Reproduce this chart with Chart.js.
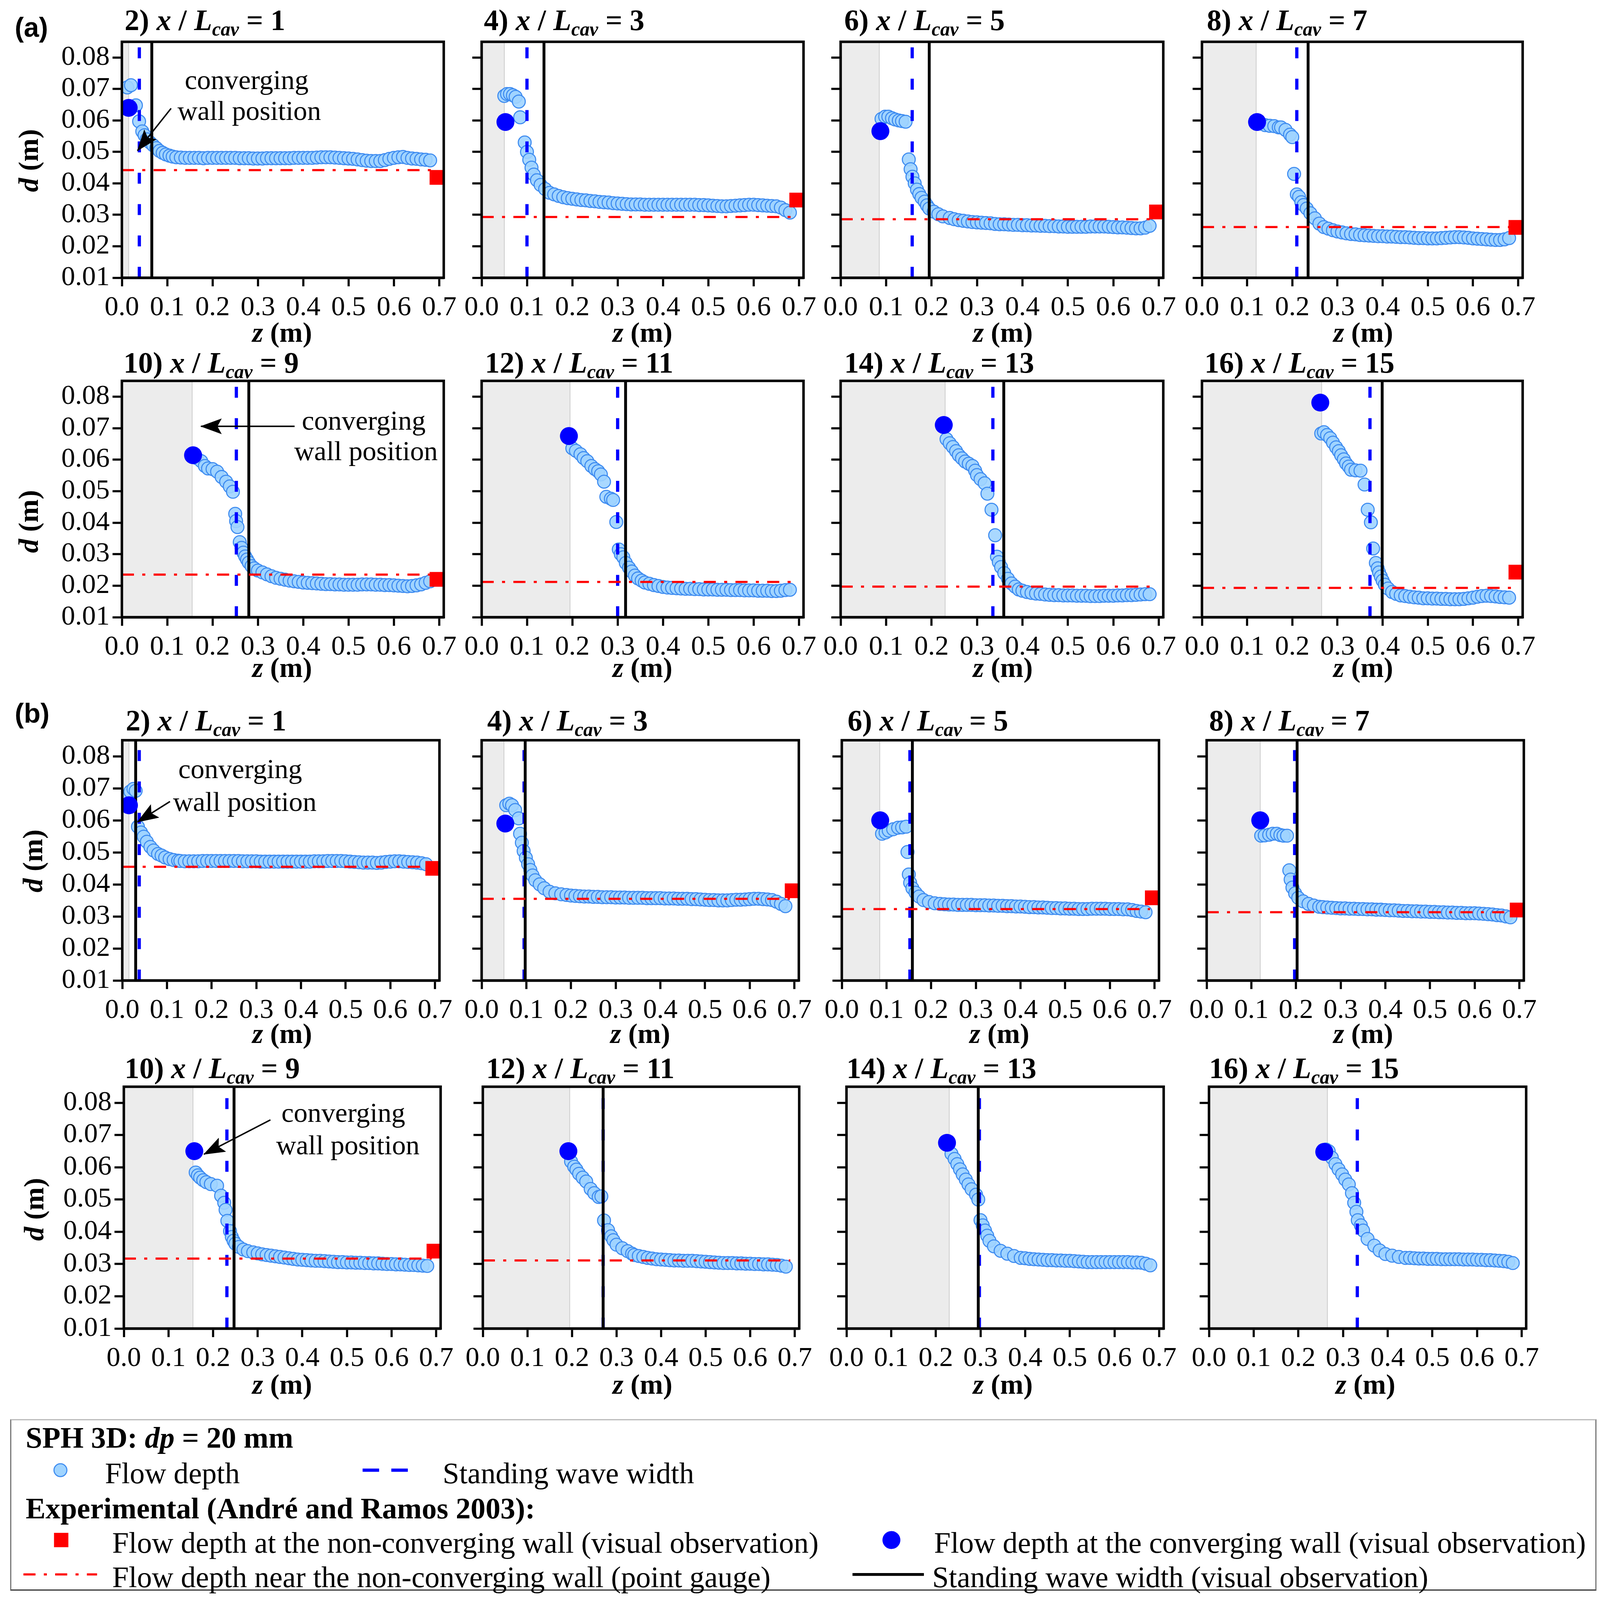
<!DOCTYPE html>
<html>
<head>
<title>Flow depth profiles</title>
<script src="https://cdn.jsdelivr.net/npm/chart.js"></script>
<style>
  html, body { margin:0; padding:0; background:#fff; overflow:hidden; }
  #page { position:relative; width:100vw; height:100vh; overflow:hidden; font-family:"Liberation Serif", serif; color:#000; }
  canvas { position:absolute; }
  .t { position:absolute; white-space:nowrap; line-height:1; }
  .b { font-weight:bold; }
  sub { font-size:.66em; vertical-align:-.28em; line-height:0; }
  #legendBox { position:absolute; border:3px solid #777; border-top-color:#bbb; border-bottom-color:#333; box-sizing:border-box; }
  svg { position:absolute; left:0; top:0; }
</style>
</head>
<body>
<div id="page"><div id="legendBox"></div></div>
<script>
// tick labels
const xTicks = [0, .1, .2, .3, .4, .5, .6, .7];
const yTicks = [.01, .02, .03, .04, .05, .06, .07, .08];

// z stations of the downstream part of every profile
const zGrid = [.13,.14,.15,.16,.17,.18,.19,.20,.21,.22,.23,.24,.25,.26,.27,.28,.29,.30,.31,.32,.33,.34,.35,.36,.37,.38,.39,.40,.41,.42,.43,.44,.45,.46,.47,.48,.49,.50,.51,.52,.53,.54,.55,.56,.57,.58,.59,.60,.61,.62,.63,.64,.65,.66,.67,.68];

// panel names, (a) then (b)
const panelNo = [2,4,6,8,10,12,14,16];
const xOverL = [1,3,5,7,9,11,13,15];

// (a) flow depth, head part z / d, then d on the tail of zGrid
const zA2 = [.012,.02,.031,.038,.045,.05,.055,.062,.069,.076,.083,.09,.097,.105,.112,.12];
const dA2 = [.0705,.0712,.0648,.0597,.0565,.0553,.054,.053,.0521,.0512,.0503,.0497,.0492,.0488,.0485,.0483];
const tA2 = [.0482,.0481,.0481,.0481,.0481,.0480,.0481,.0481,.0481,.0481,.0481,.0481,.0481,.0480,.0480,.0480,.0479,.0479,.0479,.0480,.0480,.0480,.0480,.0480,.0480,.0481,.0481,.0481,.0481,.0481,.0482,.0483,.0483,.0483,.0482,.0481,.0480,.0479,.0478,.0476,.0474,.0472,.0471,.0471,.0471,.0474,.0478,.0481,.0483,.0484,.0481,.0479,.0478,.0476,.0475,.0473];

const zA4 = [.05,.056,.0625,.069,.075,.082,.085,.095,.10,.105,.11,.115,.122,.13,.14,.15,.16,.17,.18];
const dA4 = [.0678,.0684,.0684,.068,.0675,.066,.061,.053,.050,.0475,.045,.0428,.041,.0395,.0382,.037,.0365,.036,.0356];
const tA4 = [.0353,.0351,.0349,.0347,.0346,.0344,.0343,.0341,.0340,.0339,.0337,.0336,.0335,.0334,.0333,.0333,.0333,.0332,.0332,.0332,.0332,.0332,.0332,.0332,.0332,.0332,.0332,.0332,.0332,.0331,.0331,.0330,.0329,.0328,.0327,.0327,.0328,.0329,.0330,.0331,.0332,.0332,.0331,.0330,.0329,.0328,.0327,.0323,.0315,.0307];

const zA6 = [.09,.098,.105,.113,.12,.128,.135,.143,.15,.154,.158,.163,.168,.173,.178,.185,.19,.195,.205,.215,.225];
const dA6 = [.0605,.0612,.0612,.0607,.0603,.060,.0598,.0596,.0476,.0445,.0421,.040,.038,.0366,.0354,.0342,.033,.032,.031,.0302,.0295];
const tA6 = [.0290,.0286,.0283,.0281,.0279,.0277,.0276,.0275,.0274,.0273,.0271,.0270,.0270,.0269,.0268,.0268,.0267,.0267,.0266,.0266,.0265,.0265,.0264,.0264,.0263,.0263,.0262,.0262,.0262,.0262,.0262,.0263,.0263,.0263,.0263,.0262,.0261,.0260,.0260,.0259,.0258,.0257,.0257,.0259,.0265];

const zA8 = [.13,.14,.15,.16,.17,.175,.185,.195,.20,.204,.21,.215,.22,.225,.232,.24,.25,.26];
const dA8 = [.059,.0585,.0583,.0582,.0578,.0578,.057,.0555,.0547,.043,.0365,.0357,.034,.0331,.032,.0305,.0289,.0272];
const tA8 = [.0261,.0256,.0251,.0247,.0244,.0241,.0239,.0238,.0236,.0235,.0234,.0233,.0232,.0232,.0231,.0231,.0230,.0229,.0229,.0228,.0227,.0226,.0226,.0225,.0225,.0225,.0226,.0227,.0228,.0229,.0229,.0228,.0227,.0225,.0224,.0223,.0222,.0221,.0220,.0220,.0222,.0226];

const zA10 = [.165,.175,.183,.19,.20,.21,.22,.23,.238,.245,.25,.252,.255,.26,.264,.268,.272,.276,.28,.286,.292];
const dA10 = [.0605,.0595,.058,.0572,.057,.0562,.0545,.053,.0515,.0498,.0428,.0405,.0386,.0338,.032,.0305,.0293,.0283,.0273,.0262,.0255];
const tA10 = [.0248,.0242,.0236,.0230,.0225,.0222,.0219,.0216,.0214,.0212,.0210,.0209,.0208,.0207,.0206,.0205,.0205,.0204,.0204,.0203,.0203,.0203,.0203,.0204,.0204,.0204,.0203,.0203,.0202,.0202,.0201,.0200,.0199,.0198,.0199,.0201,.0204,.0209,.0214];

const zA12 = [.20,.208,.218,.225,.233,.242,.25,.257,.263,.27,.275,.285,.29,.297,.3025,.307,.3125,.318,.325,.331,.338,.345,.353];
const dA12 = [.0636,.0628,.0617,.0605,.0595,.058,.057,.0563,.0553,.053,.0482,.0476,.0472,.0402,.0315,.030,.029,.0272,.0257,.0245,.0232,.0223,.0216];
const tA12 = [.0210,.0206,.0202,.0199,.0196,.0194,.0193,.0192,.0191,.0190,.0190,.0189,.0189,.0188,.0188,.0188,.0187,.0187,.0187,.0186,.0186,.0186,.0185,.0185,.0185,.0184,.0184,.0184,.0183,.0183,.0184,.0186,.0187];

const zA14 = [.233,.24,.247,.254,.26,.267,.274,.282,.29,.296,.30,.308,.317,.323,.332,.34,.344,.348,.353,.36,.368,.376,.384,.392];
const dA14 = [.0665,.0652,.064,.0627,.0614,.0604,.0594,.0587,.058,.0565,.0551,.0538,.0525,.0492,.0441,.036,.0292,.0275,.0259,.024,.0222,.0207,.0197,.0188];
const tA14 = [.0184,.0180,.0177,.0175,.0174,.0172,.0171,.0170,.0170,.0169,.0169,.0169,.0168,.0168,.0168,.0167,.0167,.0167,.0168,.0168,.0168,.0169,.0169,.0170,.0170,.0171,.0172,.0173,.0173];

const zA16 = [.264,.27,.277,.284,.29,.297,.303,.308,.314,.319,.325,.33,.34,.351,.36,.367,.374,.379,.385,.389,.392,.396,.40,.405,.412,.421,.43,.44];
const dA16 = [.0683,.0687,.0678,.0668,.0654,.0639,.0627,.0614,.0601,.0588,.0578,.0568,.0566,.0565,.0521,.0441,.0401,.0318,.0272,.0255,.0242,.0229,.0216,.0203,.0191,.018,.0174,.0169];
const tA16 = [.0167,.0165,.0163,.0162,.0160,.0160,.0159,.0159,.0158,.0158,.0157,.0157,.0157,.0158,.0160,.0162,.0165,.0167,.0168,.0167,.0166,.0164,.0163,.0162];

// (b) flow depth
const zB2 = [.012,.018,.025,.03,.035,.042,.048,.055,.063,.07,.08,.088,.096,.106,.115,.125,.13];
const dB2 = [.0676,.069,.0698,.0692,.058,.0562,.0549,.0533,.0517,.0506,.0495,.049,.0484,.0479,.0476,.0474,.0473];
const tB2 = [.0472,.0472,.0472,.0472,.0473,.0473,.0473,.0473,.0473,.0473,.0473,.0473,.0473,.0472,.0472,.0472,.0472,.0471,.0471,.0471,.0471,.0471,.0471,.0471,.0471,.0471,.0471,.0471,.0471,.0472,.0472,.0472,.0473,.0473,.0473,.0473,.0472,.0471,.0470,.0469,.0468,.0468,.0468,.0467,.0468,.0470,.0471,.0472,.0472,.0471,.0470,.0469,.0468,.0466,.0463];

const zB4 = [.055,.062,.068,.075,.083,.086,.09,.094,.099,.104,.109,.114,.12,.13,.14,.152,.165,.178];
const dB4 = [.0647,.0652,.0647,.0632,.0606,.0558,.053,.0504,.0483,.0463,.0445,.0428,.0413,.040,.0388,.0377,.0372,.0369];
const tB4 = [.0367,.0365,.0364,.0363,.0362,.0362,.0361,.0361,.0360,.0360,.0360,.0359,.0359,.0359,.0358,.0358,.0358,.0358,.0357,.0357,.0357,.0357,.0356,.0356,.0356,.0355,.0355,.0355,.0354,.0354,.0353,.0352,.0351,.0351,.0350,.0350,.0350,.0351,.0352,.0352,.0353,.0354,.0355,.0355,.0354,.0353,.0351,.0346,.0339,.0332];

const zB6 = [.09,.098,.105,.115,.126,.135,.144,.147,.15,.153,.158,.165,.173,.183,.195,.208];
const dB6 = [.0558,.0562,.0568,.0572,.0577,.0578,.058,.0501,.0431,.0405,.0388,.0374,.0362,.0351,.0345,.0341];
const tB6 = [.0339,.0338,.0337,.0337,.0336,.0336,.0336,.0336,.0335,.0335,.0335,.0334,.0334,.0333,.0333,.0332,.0332,.0331,.0331,.0330,.0329,.0329,.0328,.0328,.0327,.0326,.0326,.0325,.0325,.0324,.0324,.0323,.0323,.0323,.0324,.0324,.0324,.0324,.0323,.0323,.0323,.0322,.0322,.0320,.0317,.0315,.0313];

const zB8 = [.122,.13,.14,.148,.157,.165,.172,.18,.185,.188,.192,.198,.205,.216,.228,.24,.252];
const dB8 = [.0552,.0553,.0555,.0558,.0558,.0554,.0552,.0552,.0444,.0415,.039,.0372,.0358,.0347,.0339,.0334,.033];
const tB8 = [.0329,.0328,.0327,.0326,.0325,.0325,.0324,.0324,.0323,.0323,.0322,.0322,.0321,.0321,.0320,.0319,.0319,.0318,.0317,.0317,.0316,.0316,.0315,.0315,.0314,.0314,.0313,.0313,.0312,.0312,.0311,.0311,.0310,.0310,.0310,.0309,.0308,.0307,.0306,.0304,.0303,.0300,.0297];

const zB10 = [.161,.166,.171,.178,.185,.195,.209,.218,.225,.228,.232,.238,.242,.246,.25,.258,.268,.278];
const dB10 = [.0584,.0575,.0568,.056,.0554,.0548,.0543,.0512,.049,.0468,.0434,.0402,.0384,.0372,.0363,.0353,.0345,.034];
const tB10 = [.0336,.0333,.0330,.0328,.0326,.0324,.0322,.0320,.0318,.0316,.0314,.0313,.0312,.0311,.0310,.0310,.0309,.0308,.0307,.0306,.0306,.0305,.0305,.0304,.0304,.0303,.0303,.0302,.0302,.0301,.0300,.0300,.0299,.0299,.0298,.0297,.0297,.0296,.0295,.0294];

const zB12 = [.198,.205,.21,.216,.224,.232,.242,.25,.26,.266,.272,.281,.288,.293,.30,.313,.325,.335];
const dB12 = [.0618,.0602,.0593,.058,.0568,.0556,.0533,.052,.0508,.051,.0435,.0405,.0386,.0374,.036,.0349,.034,.0332];
const tB12 = [.0328,.0325,.0322,.0319,.0317,.0315,.0314,.0313,.0312,.0311,.0311,.0310,.0310,.0310,.0309,.0308,.0307,.0306,.0305,.0304,.0303,.0303,.0303,.0302,.0302,.0301,.0301,.0300,.0300,.0299,.0299,.0298,.0297,.0295,.0292];

const zB14 = [.235,.242,.248,.254,.26,.267,.273,.28,.29,.295,.30,.305,.31,.315,.32,.33,.345,.36,.375,.39];
const dB14 = [.0642,.0626,.061,.0594,.0578,.0562,.0547,.0532,.0515,.05,.0436,.042,.0404,.0388,.0372,.0355,.0341,.0332,.0325,.0319];
const tB14 = [.0318,.0316,.0315,.0314,.0313,.0312,.0312,.0311,.0311,.0310,.0310,.0309,.0308,.0307,.0306,.0306,.0306,.0306,.0306,.0306,.0306,.0306,.0306,.0306,.0305,.0305,.0304,.0301,.0296];

const zB16 = [.262,.268,.275,.283,.29,.298,.305,.313,.32,.325,.33,.333,.34,.345,.355,.37,.382,.395,.41,.425,.44];
const dB16 = [.0655,.065,.063,.061,.0594,.0578,.0562,.0547,.052,.049,.0462,.0436,.042,.0404,.0378,.0357,.0342,.0331,.0326,.0322,.0319];
const tB16 = [.0319,.0318,.0317,.0317,.0316,.0316,.0316,.0315,.0315,.0315,.0315,.0315,.0314,.0314,.0314,.0313,.0313,.0312,.0312,.0311,.0310,.0309,.0307,.0303];

const zHeads = [zA2,zA4,zA6,zA8,zA10,zA12,zA14,zA16,zB2,zB4,zB6,zB8,zB10,zB12,zB14,zB16];
const dHeads = [dA2,dA4,dA6,dA8,dA10,dA12,dA14,dA16,dB2,dB4,dB6,dB8,dB10,dB12,dB14,dB16];
const dTails = [tA2,tA4,tA6,tA8,tA10,tA12,tA14,tA16,tB2,tB4,tB6,tB8,tB10,tB12,tB14,tB16];

// the other marks, one value per panel, null where the panel has none
const wallZ  = [.015,.05,.085,.12,.155,.195,.23,.265, .015,.05,.085,.12,.155,.195,.23,.265];
const dashZ  = [.0385,.10,.1575,.21,.2525,.30,.335,.372, .038,.095,.1525,.197,.231,.27,.2975,.332];
const blackZ = [.066,.1375,.195,.235,.28,.3175,.359,.399, .03,.0975,.158,.2025,.247,.27,.295,null];
const gaugeD = [.0442,.0293,.0286,.0261,.0235,.0212,.0197,.0193, .0455,.0355,.0323,.0313,.0317,.0311,null,null];
const squareD = [.0419,.0347,.0309,.026,.022,null,null,.0243, .045,.038,.0358,.032,.034,null,null,null];
const dotZ = [.015,.0525,.0875,.122,.157,.1925,.227,.262, .015,.053,.086,.12,.158,.192,.225,.258];
const dotD = [.064,.0595,.0566,.0595,.0614,.0675,.071,.0781, .0647,.059,.06,.06,.065,.065,.0676,.0648];

// layout, measured on a 4236 x 4695 sheet and fitted to the window below
const boxLeft = [[323,1275,2226,3182],[323,1275,2226,3182],[324,1275,2229,3195],[328,1278,2241,3201]];
const boxWidth = [[852,852,854,849],[852,852,854,849],[840,840,840,840],[839,838,840,840]];
const boxTop = [123,1118,2172,3189];
const boxBottom = [815,1811,2877,3899];
const titlePos = [[330,1281,2235,3195],[327,1284,2235,3189],[333,1290,2244,3201],[330,1287,2241,3201]];
const titleY = [60,1065,2115,3135];
const zLabelX = [[747,1701,2655,3609],[747,1701,2655,3609],[747,1695,2646,3609],[747,1701,2655,3615]];
const zLabelY = [975,1959,3033,4062];
const dLabelX = [75,75,87,90];
const dLabelY = [471,1530,2526,3549];

// the window may be smaller than the sheet: positions follow it, sizes stay in proportion
const sx = window.innerWidth / 4236, sy = window.innerHeight / 4695;
const f = Math.sqrt(sx * sy);
const X = v => v * sx, Y = v => v * sy, F = v => v * f;

const serif = '"Liberation Serif", serif';
const LEFT = Math.round(F(180)), BOTTOM = Math.round(F(150)), PAD = Math.round(F(70));
const page = document.getElementById('page');

function addText(html, x, y, size, anchor, extra) {
  const el = document.createElement('div');
  el.className = 't';
  el.innerHTML = html;
  el.style.left = X(x) + 'px';
  el.style.top = Y(y) + 'px';
  el.style.fontSize = F(size) + 'px';
  el.style.transform = (anchor === 'c' ? 'translate(-50%,-50%)' : 'translateY(-50%)') + (extra || '');
  page.appendChild(el);
  return el;
}

// closes the plot box on top and right
const frame = {
  id: 'frame',
  afterDatasetsDraw(chart) {
    const a = chart.chartArea, c = chart.ctx;
    c.save();
    c.strokeStyle = '#000';
    c.lineWidth = F(7);
    c.strokeRect(a.left, a.top, a.right - a.left, a.bottom - a.top);
    c.restore();
  }
};

function flowPoints(i) {
  const tail = dTails[i];
  const zTail = zGrid.slice(zGrid.length - tail.length);
  const pts = zHeads[i].map((z, k) => ({ x: z, y: dHeads[i][k] }));
  return pts.concat(tail.map((d, k) => ({ x: zTail[k], y: d })));
}

function makePanel(i, row, col) {
  const left = X(boxLeft[row][col]), width = X(boxWidth[row][col]);
  const top = Y(boxTop[row]), bottom = Y(boxBottom[row]);
  const cv = document.createElement('canvas');
  cv.width = Math.round(LEFT + width + PAD);
  cv.height = Math.round(PAD + (bottom - top) + BOTTOM);
  cv.style.left = (left - LEFT) + 'px';
  cv.style.top = (top - PAD) + 'px';
  page.appendChild(cv);

  // first dataset ends up on top
  const sets = [];
  if (squareD[i] !== null) sets.push({ data: [{ x: .695, y: squareD[i] }], pointStyle: 'rect', pointRadius: F(29), backgroundColor: '#ff0000', borderWidth: 0 });
  sets.push({ data: [{ x: dotZ[i], y: dotD[i] }], pointRadius: F(25), backgroundColor: '#0000ff', borderWidth: 0 });
  if (gaugeD[i] !== null) sets.push({ data: [{ x: 0, y: gaugeD[i] }, { x: .69, y: gaugeD[i] }], showLine: true, pointRadius: 0, borderColor: '#ff0000', borderWidth: F(6), borderDash: [X(32), X(22), X(8), X(22)] });
  if (blackZ[i] !== null) sets.push({ data: [{ x: blackZ[i], y: .01 }, { x: blackZ[i], y: .085 }], showLine: true, pointRadius: 0, borderColor: '#000', borderWidth: F(8) });
  sets.push({ data: [{ x: dashZ[i], y: .01 }, { x: dashZ[i], y: .0835 }], showLine: true, pointRadius: 0, borderColor: '#0000ff', borderWidth: F(9), borderDash: [Y(32), Y(60)] });
  sets.push({ data: flowPoints(i), pointRadius: F(18), backgroundColor: 'rgba(160,212,255,0.9)', borderColor: '#3d8bf0', borderWidth: F(3) });
  sets.push({ data: [{ x: wallZ[i], y: .01 }, { x: wallZ[i], y: .085 }], showLine: true, pointRadius: 0, borderColor: '#c9c9c9', borderWidth: F(2) });
  sets.push({ data: [{ x: 0, y: .085 }, { x: wallZ[i], y: .085 }], showLine: true, pointRadius: 0, borderWidth: 0, backgroundColor: '#ececec', fill: { value: .01 } });

  new Chart(cv.getContext('2d'), {
    type: 'scatter',
    data: { datasets: sets },
    plugins: [frame],
    options: {
      responsive: false,
      animation: false,
      devicePixelRatio: 1,
      layout: { padding: { top: PAD, right: PAD, left: 0, bottom: 0 } },
      plugins: { legend: { display: false }, tooltip: { enabled: false } },
      scales: {
        x: {
          type: 'linear', min: 0, max: .71,
          afterBuildTicks: s => { s.ticks = xTicks.map(v => ({ value: v })); },
          afterFit: s => { s.height = BOTTOM; },
          border: { display: true, color: '#000', width: F(7) },
          grid: { drawOnChartArea: false, tickLength: F(24), tickWidth: F(6), tickColor: '#000' },
          ticks: { color: '#000', font: { family: serif, size: F(77) }, padding: F(14), maxRotation: 0, autoSkip: false, callback: v => v.toFixed(1) }
        },
        y: {
          type: 'linear', min: .01, max: .085,
          afterBuildTicks: s => { s.ticks = yTicks.map(v => ({ value: v })); },
          afterFit: s => { s.width = LEFT; },
          border: { display: true, color: '#000', width: F(7) },
          grid: { drawOnChartArea: false, tickLength: F(26), tickWidth: F(6), tickColor: '#000' },
          ticks: { color: '#000', font: { family: serif, size: F(77) }, padding: F(8), autoSkip: false, callback: v => col === 0 ? v.toFixed(2) : '' }
        }
      }
    }
  });

  const no = panelNo[i % 8], xl = xOverL[i % 8];
  addText(`<span class="b">${no}) <i>x</i> / <i>L<sub>cav</sub></i> = ${xl}</span>`, titlePos[row][col], titleY[row], 82, 'l');
  addText('<span class="b"><i>z</i> (m)</span>', zLabelX[row][col], zLabelY[row], 78, 'c');
  if (col === 0) addText('<span class="b"><i>d</i> (m)</span>', dLabelX[row], dLabelY[row], 78, 'c', ' rotate(-90deg)');
}

for (let row = 0; row < 4; row++) {
  for (let col = 0; col < 4; col++) {
    makePanel(row * 4 + col, row, col);
  }
}

// (a) / (b)
for (const [s, y] of [['(a)', 81], ['(b)', 2094]]) {
  const el = addText(s, 39, y, 76, 'l');
  el.style.fontFamily = '"Liberation Sans", sans-serif';
  el.style.fontWeight = 'bold';
}

// annotations
const notes = [
  [653, 234, 660, 324],
  [963, 1233, 969, 1323],
  [636, 2256, 648, 2352],
  [909, 3264, 921, 3360]
];
notes.forEach(n => {
  addText('converging', n[0], n[1], 77, 'c');
  addText('wall position', n[2], n[3], 77, 'c');
});

// legend frame
const box = document.getElementById('legendBox');
box.style.left = X(27) + 'px';
box.style.top = Y(4164) + 'px';
box.style.width = X(4200) + 'px';
box.style.height = Y(503) + 'px';

const svgNS = 'http://www.w3.org/2000/svg';
const svg = document.createElementNS(svgNS, 'svg');
svg.setAttribute('width', window.innerWidth);
svg.setAttribute('height', window.innerHeight);
const arrow = (x1, y1, x2, y2) => `<line x1="${X(x1)}" y1="${Y(y1)}" x2="${X(x2)}" y2="${Y(y2)}" marker-end="url(#ah)"/>`;
svg.innerHTML = `
<defs><marker id="ah" markerUnits="userSpaceOnUse" markerWidth="${F(60)}" markerHeight="${F(44)}" refX="${F(58)}" refY="${F(22)}" orient="auto">
<path d="M0,0 L${F(60)},${F(22)} L0,${F(44)} L${F(12)},${F(22)} Z" fill="#000"/></marker></defs>
<g stroke="#000" stroke-width="${F(4)}" fill="none">
${arrow(453, 318, 364, 442)}
${arrow(780, 1251, 532, 1251)}
${arrow(450, 2352, 364, 2412)}
${arrow(716, 3286, 540, 3387)}
</g>
<circle cx="${X(160)}" cy="${Y(4314)}" r="${F(18)}" fill="#a0d4ff" stroke="#3d8bf0" stroke-width="${F(3)}"/>
<line x1="${X(960)}" y1="${Y(4314)}" x2="${X(1086)}" y2="${Y(4314)}" stroke="#0000ff" stroke-width="${F(9)}" stroke-dasharray="${F(46)} ${F(34)}"/>
<rect x="${X(162) - F(20)}" y="${Y(4519) - F(20)}" width="${F(40)}" height="${F(40)}" fill="#ff0000"/>
<circle cx="${X(2360)}" cy="${Y(4519)}" r="${F(25)}" fill="#0000ff"/>
<line x1="${X(62)}" y1="${Y(4620)}" x2="${X(257)}" y2="${Y(4620)}" stroke="#ff0000" stroke-width="${F(6)}" stroke-dasharray="${X(32)} ${X(22)} ${X(8)} ${X(22)}"/>
<line x1="${X(2257)}" y1="${Y(4620)}" x2="${X(2446)}" y2="${Y(4620)}" stroke="#000" stroke-width="${F(8)}"/>`;
page.appendChild(svg);

// legend texts
addText('<b>SPH 3D: <i>dp</i> = 20 mm</b>', 68, 4218, 83, 'l');
addText('Flow depth', 278, 4322, 83, 'l');
addText('Standing wave width', 1172, 4322, 83, 'l');
addText('<b>Experimental (André and Ramos 2003):</b>', 68, 4426, 83, 'l');
addText('Flow depth at the non-converging wall (visual observation)', 297, 4526, 83, 'l');
addText('Flow depth at the converging wall (visual observation)', 2473, 4526, 83, 'l');
addText('Flow depth near the non-converging wall (point gauge)', 297, 4627, 83, 'l');
addText('Standing wave width (visual observation)', 2468, 4627, 83, 'l');
</script>
</body>
</html>
